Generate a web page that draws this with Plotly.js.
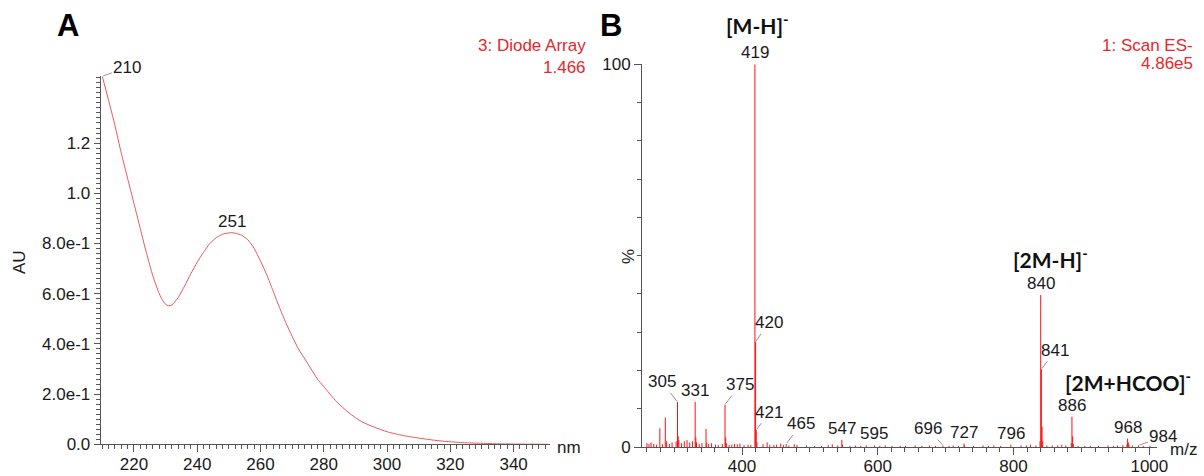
<!DOCTYPE html>
<html><head><meta charset="utf-8">
<script src="https://cdn.plot.ly/plotly-3.0.1.min.js"></script>
<style>html,body{margin:0;padding:0;background:#fff}#chart{width:1204px;height:476px}</style>
</head><body><div id="chart"></div>
<script>
// ---------- Panel A: UV (diode array) spectrum ----------
const uvWavelength = [210,212,214,216,218,220,222,224,226,228,229,230,231,232,234,236,238,240,242,244,246,248,250,251,252,254,256,258,260,262,264,266,268,270,272,274,276,278,280,284,288,292,296,300,305,310,315,320,325,330,335,340,345,351];
const uvAbsorbance = [1.466,1.37,1.27,1.16,1.06,0.96,0.86,0.76,0.67,0.60,0.575,0.558,0.552,0.555,0.585,0.63,0.68,0.725,0.765,0.80,0.823,0.837,0.842,0.843,0.841,0.833,0.815,0.78,0.73,0.675,0.61,0.545,0.485,0.43,0.38,0.34,0.30,0.26,0.23,0.17,0.125,0.09,0.068,0.05,0.035,0.025,0.016,0.010,0.006,0.004,0.002,0.001,0.0005,0];
const uvLabelled = [210, 251];
const uvYTickVals = [0,0.2,0.4,0.6,0.8,1.0,1.2];
const uvYTickText = ['0.0','2.0e-1','4.0e-1','6.0e-1','8.0e-1','1.0','1.2'];
const uvXTickVals = [220,240,260,280,300,320,340];

// ---------- Panel B: ES- mass spectrum ----------
const msMz = [260,263,266,270,274,279,283,287,289,293,297,303,305,306,307,311,315,319,323,327,331,332,333,337,341,347,348,351,355,361,365,371,375,376,377,381,385,389,393,397,403,409,413,419,420,421,422,431,437,441,447,451,457,461,465,469,477,481,495,507,517,527,533,541,547,548,559,567,575,583,595,603,611,621,633,641,655,665,676,685,696,705,711,719,727,728,741,755,763,771,781,796,811,819,825,833,839,840,841,842,843,849,857,865,871,877,885,886,887,888,895,905,913,925,939,947,953,961,967,968,969,970,975,984,991,1001];
const msIntensity = [1.0,0.8,1.2,0.8,0.6,4.9,0.7,7.7,1.5,0.8,1.2,1.5,11.8,2.8,1.8,1.0,1.5,1.8,1.2,1.5,11.8,2.5,1.2,0.8,1.0,4.7,1.2,0.8,1.0,0.6,0.5,0.8,11.1,2.5,1.0,0.5,0.6,0.8,0.7,0.9,0.5,0.6,0.5,100,27.5,4.4,1.2,0.8,1.2,0.6,0.5,0.6,0.9,0.5,0.8,0.4,0.7,0.5,0.4,0.3,0.3,0.5,0.7,0.4,1.9,0.6,0.3,0.4,0.3,0.4,0.4,0.3,0.4,0.3,0.3,0.3,0.4,0.3,0.4,0.3,0.4,0.3,0.4,0.3,0.9,0.4,0.3,0.4,0.3,0.4,0.3,0.6,0.4,0.4,0.6,0.4,1.5,39.7,20.3,5.3,1.5,0.4,0.4,0.4,0.6,0.4,1.0,7.9,2.8,0.8,0.3,0.3,0.3,0.3,0.4,0.3,0.4,0.5,0.6,2.2,1.2,0.6,0.4,0.4,0.3,0.3];
const msLabelled = [305,331,375,419,420,421,465,547,595,696,727,796,840,841,886,968,984];
const msXTickVals = [400,600,800,1000];
const msYTickVals = [0,100];
const msYTickText = ['0','100'];

// ---------- styling / placement (not data) ----------
const W = 1204, H = 476;
const FONT = 'Liberation Sans, Arial, sans-serif';
const AXC = '#555';
const px = x => x / W;
const py = y => 1 - y / H;
// leader-line offsets (pixels) for labels that are not directly above their peak
const leader = {210:[25,-9],305:[-16,-20],375:[15,-20],420:[13,-19],421:[13,-18],465:[15,-20],696:[-15,-17],841:[14,-19],984:[25,-9]};

// stick spectrum built from the arrays
const stickX = [], stickY = [];
msMz.forEach((m, i) => { stickX.push(m, m, null); stickY.push(0, msIntensity[i], null); });

const traces = [
  {x: uvWavelength, y: uvAbsorbance, xaxis: 'x', yaxis: 'y', type: 'scatter', mode: 'lines',
   line: {color: '#e8585a', width: 1, shape: 'spline', smoothing: 0.6}, hoverinfo: 'skip'},
  {x: stickX, y: stickY, xaxis: 'x2', yaxis: 'y2', type: 'scatter', mode: 'lines',
   line: {color: '#ff1010', width: 1}, hoverinfo: 'skip'}
];

function labelAnn(xv, yv, xref, yref, text) {
  const o = leader[text];
  const base = {x: xv, y: yv, xref: xref, yref: yref, text: String(text),
    font: {family: FONT, size: 17, color: '#1a1a1a'}};
  if (o) return Object.assign(base, {showarrow: true, arrowhead: 0, arrowwidth: 0.8, arrowcolor: '#777', ax: o[0], ay: o[1], standoff: 1});
  return Object.assign(base, {showarrow: false, xanchor: 'center', yanchor: 'bottom', yshift: 0});
}

const anns = [];
uvLabelled.forEach(w => anns.push(labelAnn(w, uvAbsorbance[uvWavelength.indexOf(w)], 'x', 'y', w)));
msLabelled.forEach(m => anns.push(labelAnn(m, msIntensity[msMz.indexOf(m)], 'x2', 'y2', m)));

const paperText = (x, y, text, opts) => Object.assign({xref: 'paper', yref: 'paper', x: px(x), y: py(y), text: text, showarrow: false,
  xanchor: 'center', yanchor: 'middle', font: {family: FONT, size: 17, color: '#1a1a1a'}}, opts || {});
const red = {family: FONT, size: 17, color: '#e8262b'};
const ion = {family: 'Lato, Liberation Sans, sans-serif', size: 21, color: '#111'};
anns.push(
  paperText(68, 25, '<b>A</b>', {font: {family: FONT, size: 31, color: '#000'}}),
  paperText(611, 25, '<b>B</b>', {font: {family: FONT, size: 31, color: '#000'}}),
  paperText(588, 46, '3: Diode Array', {xanchor: 'right', font: red}),
  paperText(588, 68, '1.466', {xanchor: 'right', font: red}),
  paperText(1195, 45, '1: Scan ES-', {xanchor: 'right', font: red}),
  paperText(1195, 64, '4.86e5', {xanchor: 'right', font: red}),
  paperText(19, 262, 'AU', {textangle: -90}),
  paperText(628, 257, '%', {textangle: -90}),
  paperText(569, 447, 'nm'),
  paperText(1183, 449, 'm/z'),
  paperText(757, 24, '<b>[M-H]<sup>-</sup></b>', {font: ion}),
  paperText(1050, 258, '<b>[2M-H]<sup>-</sup></b>', {font: ion}),
  paperText(1128, 381, '<b>[2M+HCOO]<sup>-</sup></b>', {font: ion})
);

const tickFont = {family: FONT, size: 17, color: '#1a1a1a'};
const baseAxis = {showline: true, linecolor: AXC, linewidth: 1, ticks: 'outside', tickcolor: AXC, tickwidth: 1,
  showgrid: false, zeroline: false, tickfont: tickFont, fixedrange: true, automargin: false};

const layout = {
  width: W, height: H, margin: {l: 0, r: 0, t: 0, b: 0},
  paper_bgcolor: '#fff', plot_bgcolor: '#fff', showlegend: false,
  xaxis: Object.assign({}, baseAxis, {domain: [px(100.7), px(550)], range: [209.5, 351.5], anchor: 'y',
    tickmode: 'array', tickvals: uvXTickVals, ticklen: 7, ticklabelstandoff: -3,
    minor: {tick0: 210, dtick: 2, ticklen: 3.5, ticks: 'outside', tickcolor: AXC, showgrid: false}}),
  yaxis: Object.assign({}, baseAxis, {domain: [py(444.3), py(76.3)], range: [0, 1.466], anchor: 'x',
    tickmode: 'array', tickvals: uvYTickVals, ticktext: uvYTickText, ticklen: 6,
    minor: {tick0: 0, dtick: 0.02, ticklen: 3.5, ticks: 'outside', tickcolor: AXC, showgrid: false}}),
  xaxis3: Object.assign({}, baseAxis, {overlaying: 'x', anchor: 'y', range: [209.5, 351.5], showline: false,
    showticklabels: false, tick0: 210, dtick: 10, ticklen: 5}),
  yaxis3: Object.assign({}, baseAxis, {overlaying: 'y', anchor: 'x', range: [0, 1.466], showline: false,
    showticklabels: false, tick0: 0, dtick: 0.1, ticklen: 5}),
  xaxis2: Object.assign({}, baseAxis, {domain: [px(642), px(1157)], range: [252.7, 1011.3], anchor: 'y2',
    tickmode: 'array', tickvals: msXTickVals, ticklen: 7, ticklabelstandoff: -3,
    minor: {tick0: 300, dtick: 20, ticklen: 4, ticks: 'outside', tickcolor: AXC, showgrid: false}}),
  xaxis4: Object.assign({}, baseAxis, {overlaying: 'x2', anchor: 'y2', range: [252.7, 1011.3], showline: false,
    showticklabels: false, tick0: 300, dtick: 100, ticklen: 7}),
  yaxis2: Object.assign({}, baseAxis, {domain: [py(447), py(64.3)], range: [0, 100], anchor: 'x2',
    tickmode: 'array', tickvals: msYTickVals, ticktext: msYTickText, ticklen: 7,
    minor: {tick0: 0, dtick: 10, ticklen: 4, ticks: 'outside', tickcolor: AXC, showgrid: false}}),
  annotations: anns
};

Plotly.newPlot('chart', traces, layout, {staticPlot: true, displayModeBar: false});
</script></body></html>
